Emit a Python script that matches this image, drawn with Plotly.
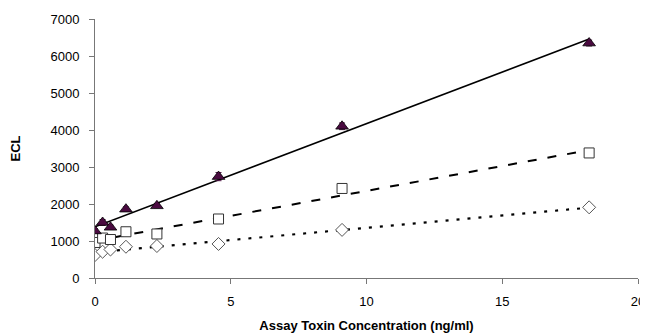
import numpy as np
import plotly.graph_objects as go

conc = [0, 0.28, 0.57, 1.14, 2.28, 4.55, 9.1, 18.2]
tri_vals = [1270, 1500, 1370, 1860, 1950, 2740, 4100, 6350]
tri_err = [60, 80, 60, 60, 50, 110, 90, 80]
sq_vals = [960, 1080, 1040, 1250, 1190, 1595, 2420, 3380]
dia_vals = [620, 710, 770, 845, 865, 920, 1300, 1910]

x_ticks = [0, 5, 10, 15, 20]
y_ticks = [0, 1000, 2000, 3000, 4000, 5000, 6000, 7000]

fig = go.Figure()

def fit_line(x, y, dash, width):
    m, b = np.polyfit(x, y, 1)
    xs = [min(x), max(x)]
    return go.Scatter(x=xs, y=[m * v + b for v in xs], mode="lines",
                      line=dict(color="black", width=width, dash=dash),
                      showlegend=False, hoverinfo="skip")

fig.add_trace(fit_line(conc, dia_vals, "3px,8px", 2.2))
fig.add_trace(fit_line(conc, sq_vals, "9px,11px", 2))
fig.add_trace(fit_line(conc, tri_vals, "solid", 1.6))

fig.add_trace(go.Scatter(x=conc, y=dia_vals, mode="markers",
                         marker=dict(symbol="diamond", size=10, color="white",
                                     line=dict(color="#555555", width=1)),
                         showlegend=False))
fig.add_trace(go.Scatter(x=conc, y=sq_vals, mode="markers",
                         marker=dict(symbol="square", size=10, color="white",
                                     line=dict(color="#333333", width=1)),
                         showlegend=False))
fig.add_trace(go.Scatter(x=conc, y=tri_vals, mode="markers",
                         error_y=dict(type="data", array=tri_err, color="#4a1040",
                                      thickness=1, width=3),
                         marker=dict(symbol="triangle-up", size=11, color="#4a0a40",
                                     line=dict(color="black", width=0.8)),
                         showlegend=False))

fig.update_layout(
    width=640, height=325,
    margin=dict(l=87, r=10, t=11, b=55, autoexpand=False),
    paper_bgcolor="white", plot_bgcolor="white",
    font=dict(family="Liberation Sans, Arial", size=13, color="black"),
)
fig.update_xaxes(range=[0, 20], tickvals=x_ticks, showgrid=False, zeroline=False,
                 automargin=False,
                 showline=True, linecolor="#777777", linewidth=1,
                 ticks="outside", ticklen=5, tickcolor="#777777",
                 ticklabelstandoff=6,
                 title=dict(text="<b>Assay Toxin Concentration (ng/ml)</b>",
                            font=dict(size=13), standoff=15))
fig.update_yaxes(range=[0, 7000], tickvals=y_ticks, showgrid=False, zeroline=False,
                 automargin=False,
                 showline=True, linecolor="#777777", linewidth=1,
                 ticks="outside", ticklen=5, tickcolor="#777777",
                 ticklabelstandoff=7,
                 title=dict(text="<b>ECL</b>", font=dict(size=13), standoff=26))

fig.write_html("out.html")
